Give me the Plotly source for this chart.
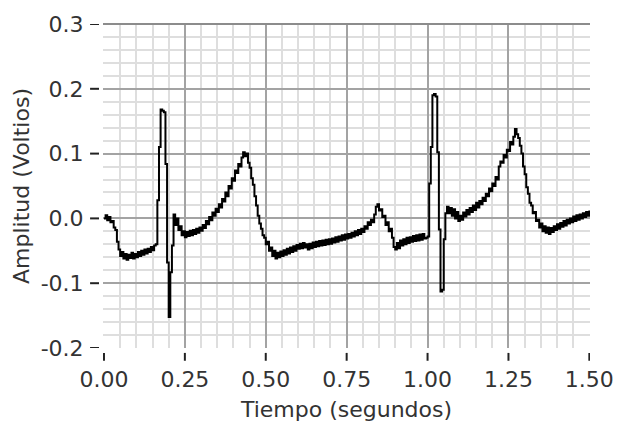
import numpy as np
import plotly.graph_objects as go

# ECG record sampled every 5 ms (volts)
sample_interval = 0.005
amplitude = [
    # 0.000 - 0.095
    0.000, 0.005, -0.003, 0.002, -0.006, -0.004, -0.014, -0.018, -0.036, -0.048,
    -0.058, -0.052, -0.062, -0.055, -0.064, -0.056, -0.061, -0.053, -0.062, -0.055,
    # 0.100 - 0.195
    -0.060, -0.052, -0.058, -0.050, -0.056, -0.048, -0.054, -0.047, -0.052, -0.044,
    -0.049, -0.042, -0.040, 0.028, 0.110, 0.168, 0.166, 0.164, 0.084, -0.068,
    # 0.200 - 0.295
    -0.152, -0.083, -0.042, 0.006, -0.010, 0.000, -0.018, -0.012, -0.026, -0.020,
    -0.029, -0.021, -0.027, -0.019, -0.026, -0.018, -0.024, -0.016, -0.022, -0.014,
    # 0.300 - 0.395
    -0.019, -0.010, -0.015, -0.004, -0.009, 0.002, -0.003, 0.009, 0.004, 0.015,
    0.010, 0.022, 0.017, 0.030, 0.026, 0.040, 0.034, 0.050, 0.046, 0.062,
    # 0.400 - 0.495
    0.058, 0.074, 0.070, 0.084, 0.080, 0.094, 0.102, 0.096, 0.100, 0.086,
    0.078, 0.062, 0.052, 0.034, 0.020, 0.004, -0.008, -0.016, -0.026, -0.030,
    # 0.500 - 0.595
    -0.040, -0.036, -0.050, -0.045, -0.058, -0.050, -0.062, -0.053, -0.060, -0.051,
    -0.058, -0.049, -0.056, -0.047, -0.054, -0.045, -0.052, -0.043, -0.050, -0.041,
    # 0.600 - 0.695
    -0.047, -0.039, -0.046, -0.038, -0.045, -0.040, -0.048, -0.039, -0.046, -0.037,
    -0.044, -0.036, -0.043, -0.035, -0.042, -0.034, -0.041, -0.033, -0.040, -0.032,
    # 0.700 - 0.795
    -0.039, -0.031, -0.037, -0.029, -0.036, -0.028, -0.034, -0.026, -0.033, -0.025,
    -0.031, -0.024, -0.030, -0.022, -0.028, -0.020, -0.026, -0.018, -0.024, -0.016,
    # 0.800 - 0.895
    -0.021, -0.012, -0.016, -0.006, -0.010, -0.002, -0.006, 0.006, 0.018, 0.022,
    0.012, 0.014, 0.002, 0.004, -0.010, -0.006, -0.020, -0.016, -0.030, -0.044,
    # 0.900 - 0.995
    -0.048, -0.038, -0.046, -0.034, -0.042, -0.032, -0.040, -0.030, -0.038, -0.029,
    -0.036, -0.027, -0.035, -0.026, -0.034, -0.025, -0.033, -0.024, -0.031, -0.030,
    # 1.000 - 1.095
    -0.028, 0.054, 0.110, 0.190, 0.192, 0.188, 0.102, -0.017, -0.113, -0.110,
    -0.032, 0.008, 0.018, 0.008, 0.016, 0.004, 0.014, 0.000, 0.010, -0.004,
    # 1.100 - 1.195
    0.004, -0.002, 0.009, 0.003, 0.013, 0.006, 0.016, 0.010, 0.020, 0.013,
    0.024, 0.017, 0.027, 0.022, 0.032, 0.027, 0.038, 0.034, 0.046, 0.042,
    # 1.200 - 1.295
    0.054, 0.050, 0.064, 0.060, 0.080, 0.088, 0.086, 0.098, 0.094, 0.106,
    0.104, 0.118, 0.114, 0.126, 0.138, 0.130, 0.124, 0.112, 0.100, 0.080,
    # 1.300 - 1.395
    0.068, 0.048, 0.038, 0.024, 0.020, 0.008, 0.010, -0.004, -0.002, -0.014,
    -0.008, -0.020, -0.012, -0.022, -0.014, -0.024, -0.015, -0.021, -0.012, -0.018,
    # 1.400 - 1.500
    -0.009, -0.016, -0.007, -0.013, -0.004, -0.011, -0.002, -0.008, 0.000, -0.006,
    0.003, -0.004, 0.005, -0.002, 0.006, 0.000, 0.008, 0.002, 0.010, 0.004,
    0.012,
]
time = np.arange(len(amplitude)) * sample_interval

x_ticks = [0.0, 0.25, 0.5, 0.75, 1.0, 1.25, 1.5]
x_labels = ["0.00", "0.25", "0.50", "0.75", "1.00", "1.25", "1.50"]
y_ticks = [-0.2, -0.1, 0.0, 0.1, 0.2, 0.3]
y_labels = ["-0.2", "-0.1", "0.0", "0.1", "0.2", "0.3"]

x_range = [-0.003, 1.502]
y_range = [-0.2, 0.3]

font = dict(family="DejaVu Sans", size=22, color="#333333")
major = "#a3a3a3"
minor = "#dedede"

fig = go.Figure(
    go.Scatter(
        x=time, y=amplitude, mode="lines", line_shape="hv",
        line=dict(color="black", width=2), hoverinfo="skip",
    )
)

fig.update_layout(
    width=626, height=432,
    margin=dict(l=103, r=33, t=18, b=84),
    paper_bgcolor="white", plot_bgcolor="white",
    font=font, showlegend=False,
)

fig.update_xaxes(
    range=x_range, tickvals=x_ticks, ticktext=x_labels,
    ticks="outside", ticklen=12, tickcolor="rgba(0,0,0,0)",
    showgrid=True, gridcolor=major, gridwidth=2,
    minor=dict(dtick=0.05, showgrid=True, gridcolor=minor, gridwidth=2),
    zeroline=False, showline=False,
    title=dict(text="Tiempo (segundos)", font=font, standoff=10),
)
fig.update_yaxes(
    range=y_range, tickvals=y_ticks, ticktext=y_labels,
    ticks="outside", ticklen=14, tickcolor="rgba(0,0,0,0)",
    showgrid=True, gridcolor=major, gridwidth=2,
    minor=dict(dtick=0.02, showgrid=True, gridcolor=minor, gridwidth=2),
    zeroline=False, showline=False,
    title=dict(text="Amplitud (Voltios)", font=font, standoff=4),
)

# Detached tick marks, set slightly away from the plot frame
plot_w = 626 - 103 - 33
plot_h = 432 - 18 - 84
for v in x_ticks:
    fig.add_shape(type="line", xref="x", yref="paper", x0=v, x1=v,
                  y0=-5 / plot_h, y1=-13 / plot_h,
                  line=dict(color="#222222", width=2))
for v in y_ticks:
    fig.add_shape(type="line", xref="paper", yref="y", y0=v, y1=v,
                  x0=-13 / plot_w, x1=-4 / plot_w,
                  line=dict(color="#222222", width=2))

# Darker frame edge along the top
fig.add_shape(type="line", xref="paper", yref="paper", x0=0, x1=1, y0=1, y1=1,
              line=dict(color="#8c8c8c", width=2))

fig.write_html("out.html")
